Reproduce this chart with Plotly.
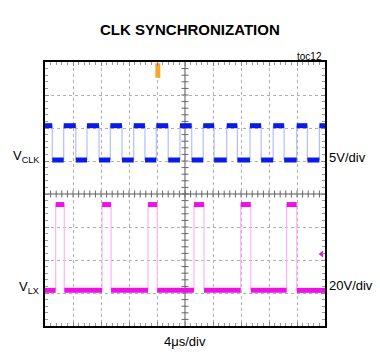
import plotly.graph_objects as go

# ---- data (in divisions: x 0-10, y 0-8) ----
clk_rise = [0.668, 1.50, 2.332, 3.168, 3.975, 4.82, 5.65, 6.49, 7.32, 8.15, 8.99, 9.80]
clk_fall = [0.26, 1.10, 1.93, 2.75, 3.57, 4.40, 5.24, 6.04, 6.87, 7.72, 8.54, 9.37]
clk_high, clk_low = 6.07, 5.03
clk_start_high = True

lx_rise = [0.38, 2.04, 3.68, 5.32, 6.99, 8.63]
lx_fall = [0.69, 2.36, 4.01, 5.68, 7.35, 8.99]
lx_high, lx_low = 3.68, 1.08
lx_start_high = False

trigger_x, trigger_y = [4.03, 4.03], [7.96, 7.52]
lx_ground_marker = (9.88, 2.18)

x_divs, y_divs = 10, 8


def build(rise, fall, hi, lo, start_high):
    events = sorted([(r, True) for r in rise] + [(f, False) for f in fall])
    fx, fy, ex, ey = [], [], [], []
    state = start_high
    prev = 0.0
    for t, to_high in events:
        lvl = hi if state else lo
        fx += [prev, t, None]; fy += [lvl, lvl, None]
        ex += [t, t, None]; ey += [lo, hi, None]
        state = to_high
        prev = t
    lvl = hi if state else lo
    fx += [prev, x_divs, None]; fy += [lvl, lvl, None]
    return fx, fy, ex, ey


fig = go.Figure()

cfx, cfy, cex, cey = build(clk_rise, clk_fall, clk_high, clk_low, clk_start_high)
lfx, lfy, lex, ley = build(lx_rise, lx_fall, lx_high, lx_low, lx_start_high)

# center cross minor ticks
cx = [i * 0.2 for i in range(1, x_divs * 5)]
cy = [i * 0.2 for i in range(1, y_divs * 5)]
fig.add_trace(go.Scatter(x=cx, y=[y_divs / 2] * len(cx), mode="markers",
                         marker=dict(symbol="line-ns", size=5, line=dict(width=1, color="#666")),
                         hoverinfo="skip"))
fig.add_trace(go.Scatter(x=[x_divs / 2] * len(cy), y=cy, mode="markers",
                         marker=dict(symbol="line-ew", size=5, line=dict(width=1, color="#666")),
                         hoverinfo="skip"))

fig.add_trace(go.Scatter(x=cex, y=cey, mode="lines", line=dict(color="#b4bcff", width=1.2), hoverinfo="skip"))
fig.add_trace(go.Scatter(x=cfx, y=cfy, mode="lines", line=dict(color="#0a1ae8", width=5), hoverinfo="skip"))
fig.add_trace(go.Scatter(x=lex, y=ley, mode="lines", line=dict(color="#ffb4f8", width=1.2), hoverinfo="skip"))
fig.add_trace(go.Scatter(x=lfx, y=lfy, mode="lines", line=dict(color="#ee10e4", width=5), hoverinfo="skip"))

fig.add_trace(go.Scatter(x=trigger_x, y=trigger_y, mode="lines",
                         line=dict(color="#f7a530", width=5), hoverinfo="skip"))
fig.add_trace(go.Scatter(x=[lx_ground_marker[0]], y=[lx_ground_marker[1]], mode="markers",
                         marker=dict(symbol="triangle-left", size=6, color="#cc22cc"), hoverinfo="skip"))

axis_common = dict(showgrid=True, griddash="dot", gridcolor="#b0b0b0", gridwidth=1,
                   showline=True, linecolor="black", linewidth=2, mirror="ticks",
                   ticks="inside", ticklen=4, tickcolor="#888", showticklabels=False,
                   zeroline=False, fixedrange=True,
                   minor=dict(ticks="inside", ticklen=3, tickcolor="#999", dtick=0.2, showgrid=False))

fig.update_xaxes(range=[0, x_divs], dtick=1, tick0=0, **axis_common)
fig.update_yaxes(range=[0, y_divs], dtick=1, tick0=0, **axis_common)

fig.add_shape(type="line", x0=x_divs / 2, x1=x_divs / 2, y0=0, y1=y_divs, line=dict(color="#555", width=1), layer="below")
fig.add_shape(type="line", x0=0, x1=x_divs, y0=y_divs / 2, y1=y_divs / 2, line=dict(color="#555", width=1), layer="below")

font = "Liberation Sans, Arial, sans-serif"
ann = [
    dict(text="<b>CLK SYNCHRONIZATION</b>", x=190, y=29, font=dict(family="Liberation Sans Narrow, Arial Narrow, Liberation Sans, sans-serif", size=15), xanchor="center"),
    dict(text="V<sub>CLK</sub>", x=41, y=156, font=dict(family=font, size=13), xanchor="right"),
    dict(text="5V/div", x=327, y=157, font=dict(family=font, size=13), xanchor="left"),
    dict(text="V<sub>LX</sub>", x=41, y=287, font=dict(family=font, size=13), xanchor="right"),
    dict(text="20V/div", x=327, y=285, font=dict(family=font, size=13), xanchor="left"),
    dict(text="4μs/div", x=185, y=341, font=dict(family=font, size=13), xanchor="center"),
    dict(text="toc12", x=324, y=57, font=dict(family=font, size=10), xanchor="right"),
]
for a in ann:
    fig.add_annotation(text=a["text"], xref="paper", yref="paper",
                       x=(a["x"] - 45) / 280, y=(326 - a["y"]) / 264,
                       xanchor=a["xanchor"], yanchor="middle", showarrow=False,
                       font=dict(color="black", **a["font"]))

fig.update_layout(width=380, height=354, margin=dict(l=45, r=55, t=62, b=28),
                  paper_bgcolor="white", plot_bgcolor="white", showlegend=False)

fig.write_html("out.html")
